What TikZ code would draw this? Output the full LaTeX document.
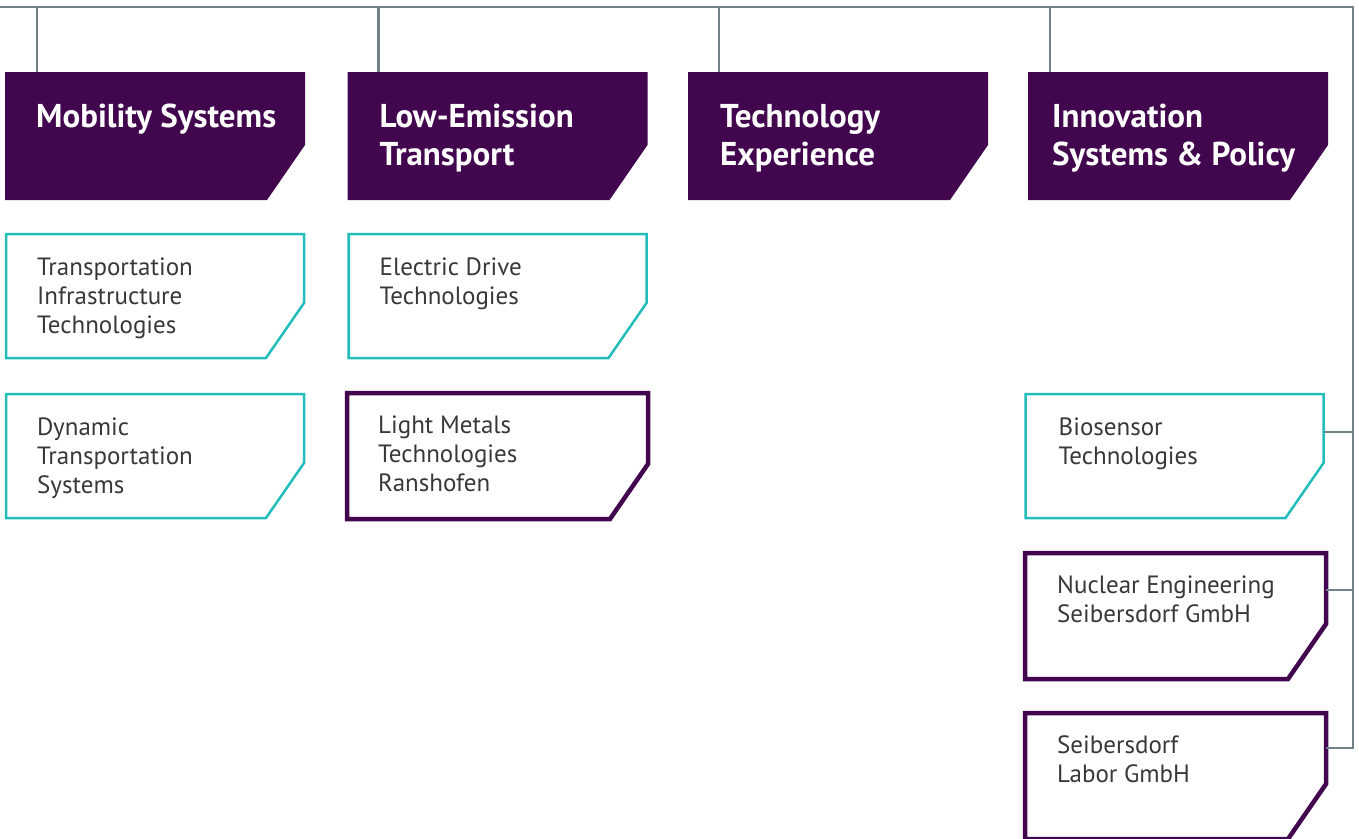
\documentclass[tikz,border=0pt]{standalone}
\usepackage{fontspec}
\setmainfont{PT Sans}

\definecolor{aitpurple}{HTML}{42064F}
\definecolor{aitteal}{HTML}{22BDBB}
\definecolor{aitgrey}{HTML}{6F8189}
\definecolor{aittext}{HTML}{383838}

% outline of a box with its lower right corner cut off
\newcommand\cutbox[1]{(#1.north west) -- (#1.north east) -- ([yshift=55pt]#1.south east)
    -- ([xshift=-38pt]#1.south east) -- (#1.south west) -- cycle}

\begin{document}
\begin{tikzpicture}[x=1pt, y=-1pt,
    box/.style={rectangle, minimum width=300pt, minimum height=124pt, inner sep=0pt, outer sep=0pt},
    head/.style={box, minimum height=128pt},
    lab/.style={box, minimum width=298pt},
    comp/.style={box, minimum width=301pt, minimum height=126pt},
    headfill/.style={fill=aitpurple},
    labline/.style={draw=aitteal, line width=2.5pt},
    compline/.style={draw=aitpurple, line width=4.5pt},
    headtxt/.style={anchor=north west, align=left, inner sep=0pt, text=white,
        font=\bfseries\fontsize{33}{38}\selectfont},
    subtxt/.style={anchor=north west, align=left, inner sep=0pt, text=aittext,
        font=\fontsize{25}{29}\selectfont},
    line/.style={draw=aitgrey, line width=2.5pt}]
    \useasboundingbox (0,0) rectangle (1359,838);

    % areas
    \node[head] (mob) at (155,136) {};
    \node[head] (low) at (497.5,136) {};
    \node[head] (tex) at (838,136) {};
    \node[head] (isp) at (1178,136) {};
    \foreach \n in {mob,low,tex,isp}
        \fill[headfill] \cutbox{\n};
    \node[headtxt] at ([shift={(31pt,-27pt)}]mob.north west) {\rule{0pt}{28pt}Mobility Systems};
    \node[headtxt] at ([shift={(32pt,-27pt)}]low.north west) {\rule{0pt}{28pt}Low-Emission\\Transport};
    \node[headtxt] at ([shift={(32pt,-27pt)}]tex.north west) {\rule{0pt}{28pt}Technology\\Experience};
    \node[headtxt] at ([shift={(24pt,-27pt)}]isp.north west) {\rule{0pt}{28pt}Innovation\\Systems \& Policy};

    % centers
    \node[lab] (tit) at (155,296) {};
    \node[lab] (dts) at (155,456) {};
    \node[lab] (edt) at (497.5,296) {};
    \node[comp] (lmt) at (497.5,456) {};
    \node[lab] (bio) at (1174.5,456) {};
    \node[comp] (nes) at (1175.5,616) {};
    \node[comp] (sel) at (1175.5,776) {};
    \foreach \n in {tit,dts,edt,bio}
        \draw[labline] \cutbox{\n};
    \foreach \n in {lmt,nes,sel}
        \draw[compline] \cutbox{\n};
    \node[subtxt] at ([shift={(31pt,-21pt)}]tit.north west) {\rule{0pt}{20pt}Transportation\\Infrastructure\\Technologies};
    \node[subtxt] at ([shift={(31pt,-21pt)}]dts.north west) {\rule{0pt}{20pt}Dynamic\\Transportation\\Systems};
    \node[subtxt] at ([shift={(31pt,-21pt)}]edt.north west) {\rule{0pt}{20pt}Electric Drive\\Technologies};
    \node[subtxt] at ([shift={(31pt,-20pt)}]lmt.north west) {\rule{0pt}{20pt}Light Metals\\Technologies\\Ranshofen};
    \node[subtxt] at ([shift={(33pt,-21pt)}]bio.north west) {\rule{0pt}{20pt}Biosensor\\Technologies};
    \node[subtxt] at ([shift={(32pt,-20pt)}]nes.north west) {\rule{0pt}{20pt}Nuclear Engineering\\Seibersdorf GmbH};
    \node[subtxt] at ([shift={(32pt,-20pt)}]sel.north west) {\rule{0pt}{20pt}Seibersdorf\\Labor GmbH};

    % lines
    \coordinate (busw) at (0,7);
    \coordinate (buse) at (1353,7);
    \draw[line] (busw) -- (buse) |- ([yshift=-35pt]sel.north east);
    \draw[line] ([xshift=32pt]mob.north west) coordinate (s1) -- (s1 |- busw);
    \draw[line] ([xshift=31pt]low.north west) coordinate (s2) -- (s2 |- busw);
    \draw[line] ([xshift=31pt]tex.north west) coordinate (s3) -- (s3 |- busw);
    \draw[line] ([xshift=22pt]isp.north west) coordinate (s4) -- (s4 |- busw);
    \draw[line] ([yshift=-38pt]bio.north east) coordinate (r1) -- (r1 -| buse);
    \draw[line] ([yshift=-37pt]nes.north east) coordinate (r2) -- (r2 -| buse);
\end{tikzpicture}
\end{document}
